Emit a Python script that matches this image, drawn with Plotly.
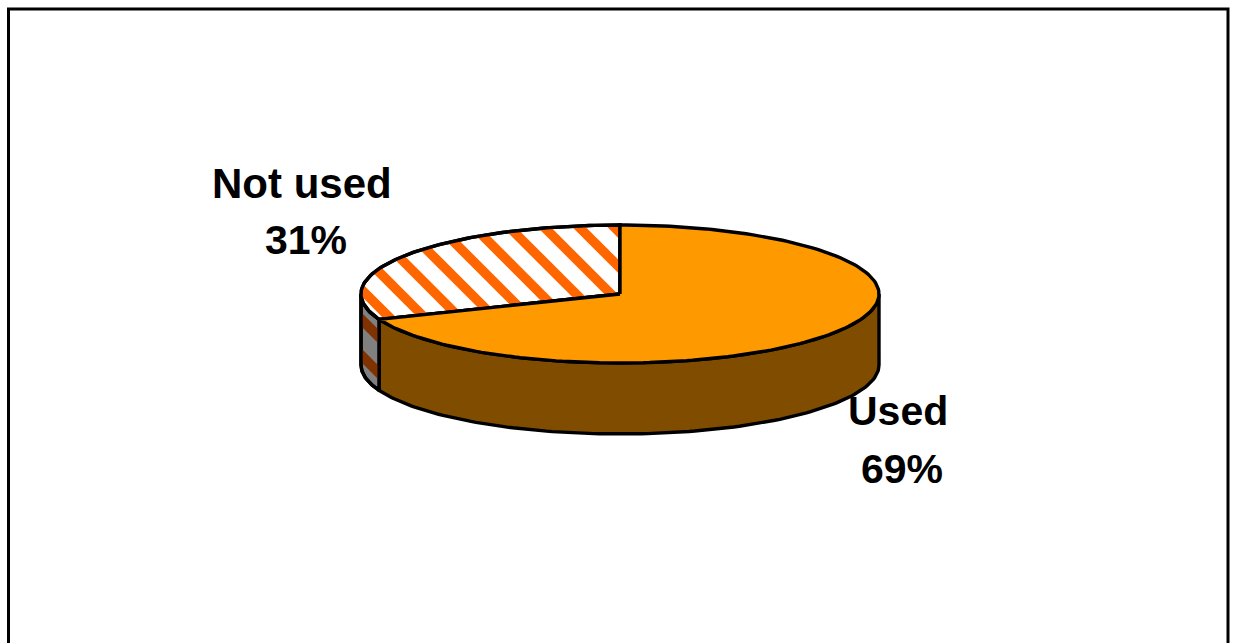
import numpy as np
import plotly.graph_objects as go

categories = ["Used", "Not used"]
values = [69, 31]
label_lines = [["Used", "69%"], ["Not used", "31%"]]

W, H = 1238, 643
CX, CY, RX, RY, DEPTH = 620, 294, 259, 69, 71


def ell(t, dy=0.0):
    t = np.radians(t)
    return CX + RX * np.sin(t), CY + dy - RY * np.cos(t)


def clip(poly, a, b, c):
    """keep the part of poly where a*x+b*y<=c"""
    out = []
    n = len(poly)
    for i in range(n):
        p, q = poly[i], poly[(i + 1) % n]
        dp, dq = a * p[0] + b * p[1] - c, a * q[0] + b * q[1] - c
        if dp <= 0:
            out.append(p)
        if dp * dq < 0:
            s = dp / (dp - dq)
            out.append((p[0] + s * (q[0] - p[0]), p[1] + s * (q[1] - p[1])))
    return out


def stripes(poly, slope, c0, period, width):
    xs, ys = [], []
    for k in range(-30, 60):
        c = c0 + k * period
        piece = clip(clip(poly, 1, -1 / slope, c + width / 2), -1, 1 / slope, -(c - width / 2))
        if len(piece) > 2:
            xs += [p[0] for p in piece] + [piece[0][0], None]
            ys += [p[1] for p in piece] + [piece[0][1], None]
    return xs, ys


def pts(x, y):
    return list(zip(np.atleast_1d(x).tolist(), np.atleast_1d(y).tolist()))


def poly_xy(poly):
    return [p[0] for p in poly] + [poly[0][0]], [p[1] for p in poly] + [poly[0][1]]


split = 360 * values[0] / sum(values)

t_used = np.linspace(0, split, 180)
top_used = [(CX, CY)] + pts(*ell(t_used))
t_not = np.linspace(split, 360, 100)
top_not = [(CX, CY)] + pts(*ell(t_not))

t_s1 = np.linspace(90, split, 120)
side_used = pts(*ell(t_s1)) + pts(*ell(t_s1[::-1], DEPTH))
t_s2 = np.linspace(split, 270, 30)
side_not = pts(*ell(t_s2)) + pts(*ell(t_s2[::-1], DEPTH))

fig = go.Figure()
LINE = dict(color="black", width=3.4)


def area(poly, color):
    x, y = poly_xy(poly)
    fig.add_trace(go.Scatter(x=x, y=y, mode="lines", fill="toself", fillcolor=color,
                             line=LINE, hoverinfo="skip"))


def hatch(poly, color, slope, c0, period, width):
    x, y = stripes(poly, slope, c0, period, width)
    fig.add_trace(go.Scatter(x=x, y=y, mode="lines", fill="toself", fillcolor=color,
                             line=dict(color=color, width=0), hoverinfo="skip"))


def outline(poly):
    x, y = poly_xy(poly)
    fig.add_trace(go.Scatter(x=x, y=y, mode="lines", line=LINE, hoverinfo="skip"))


area(side_used, "#804D00")
area(side_not, "#808080")
hatch(side_not, "#803300", 1.0, -30, 36, 14)
outline(side_not)
area(top_not, "#FFFFFF")
hatch(top_not, "#FF6600", 1.0, 247, 35, 13.5)
outline(top_not)
area(top_used, "#FF9900")

# frame (open at the bottom: runs past the window edge)
fig.add_shape(type="rect", x0=8.5, x1=1228, y0=9, y1=H + 20, line=dict(color="black", width=3),
              fillcolor="rgba(0,0,0,0)", layer="below")

label_pos = [[(898, 411, 41), (902, 469, 41)], [(302, 183, 42), (306, 240, 41)]]
for lines, poss in zip(label_lines, label_pos):
    for txt, (x, y, size) in zip(lines, poss):
        fig.add_annotation(x=x, y=y, text=txt, showarrow=False, xanchor="center", yanchor="middle",
                           font=dict(family="Liberation Sans", size=size, color="black", weight="bold"))

fig.update_layout(
    width=W, height=H, margin=dict(l=0, r=0, t=0, b=0), showlegend=False,
    paper_bgcolor="white", plot_bgcolor="white",
    xaxis=dict(range=[0, W], visible=False, fixedrange=True),
    yaxis=dict(range=[H, 0], visible=False, fixedrange=True),
)
fig.write_html("out.html", config=dict(displayModeBar=False),
               post_script="document.body.style.margin='0';document.body.style.overflow='hidden';")
